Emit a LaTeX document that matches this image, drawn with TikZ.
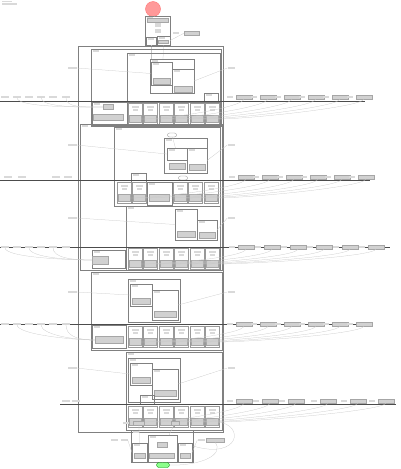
\documentclass[tikz,border=0pt]{standalone}
\usetikzlibrary{positioning}

% plain box, top left corner at (x,y)
\newcommand{\fr}[5]{%
  \node[frame,minimum width=#4pt,minimum height=#5pt] (#1) at (#2,#3) {};
  \node[bar,minimum width=6pt,anchor=north west] (#1-t) at (#2+1.5,#3+1.2) {};}
% one state of a row
\newcommand{\kid}[3]{%
  \node[kidbox] (#1) at (#2,#3) {};
  \node[bar,minimum width=7pt] (#1-t) at (#2+7,#3+4) {};
  \node[bar,minimum width=5pt] (#1-u) at (#2+7,#3+7) {};
  \node[gbox,minimum width=12pt,minimum height=7pt] (#1-g) at (#2+7,#3+16) {};}
\newcommand{\kidrow}[2]{%
  \foreach \i/\x in {1/128,2/143,3/159,4/174,5/190,6/205} {\kid{#1\i}{\x}{#2}}}
% labels right of the chart
\newcommand{\rlabels}[3]{%
  \foreach \i/\x in {#3} {
    \node[bar,minimum width=6pt] (#1x\i) at (\x,#2) {};
    \node[gbox,minimum width=16pt,minimum height=3.5pt] (#1r\i) at (\x+14,#2) {};}}
% labels left of the chart
\newcommand{\llabels}[3]{%
  \foreach \i/\x in {#3} {\node[bar,minimum width=8pt] (#1y\i) at (\x,#2) {};}}

\begin{document}
\begin{tikzpicture}[x=1pt,y=-1pt,
    frame/.style={draw=black!50,line width=0.35pt,inner sep=0pt,outer sep=0pt,anchor=north west},
    kidbox/.style={draw=black!40,fill=white,line width=0.25pt,minimum width=14pt,minimum height=21pt,inner sep=0pt,outer sep=0pt,anchor=north west},
    bar/.style={fill=black!15,inner sep=0pt,minimum height=1.1pt},
    gbox/.style={fill=black!18,draw=black!35,line width=0.2pt,inner sep=0pt},
    conn/.style={draw=black!22,line width=0.25pt},
    lane/.style={draw=black!70,line width=0.45pt}]
  \useasboundingbox (0,0) rectangle (400,469);

  % Titel
  \node[bar,minimum width=10pt,anchor=west] (title1) at (2,1.5) {};
  \node[bar,minimum width=15pt,anchor=west] (title2) at (2,4) {};

  % Start
  \node[circle,fill=red!40,draw=red!55,minimum size=15pt,inner sep=0pt] (start) at (153,9) {};
  \fr{top}{145}{16}{25}{30}
  \node[gbox,minimum width=21pt,minimum height=4pt] (top-h) at (157.5,20) {};
  \foreach \i/\y in {1/24,2/26,3/30,4/32}
    \node[bar,minimum width=6pt] (top-b\i) at (157.5,\y) {};
  \fr{topa}{146}{37}{10}{8}
  \fr{topb}{157}{36}{13}{9}
  \node[gbox,minimum width=10pt,minimum height=3pt] (topb-g) at (163.5,42) {};
  \node[bar,minimum width=6pt] (topn) at (176,33) {};
  \node[gbox,minimum width=15pt,minimum height=3.5pt] (topr) at (192,33) {};
  \draw[conn] (start) -- (top);
  \draw[conn] (topr.west) -- (topb.east);
  \coordinate (aIn1) at (151,60);
  \coordinate (aIn2) at (163,60);
  \draw[conn] (topa.south) -- (aIn1);
  \draw[conn] (topb.south) -- (aIn2);

  % Hauptzustand
  \node[frame,minimum width=145pt,minimum height=386pt] (main) at (78,46) {};

  % Abschnitt A
  \fr{secA}{91}{49}{130}{77}
  \fr{aBox}{127}{53}{93}{49}
  \fr{aNest}{150}{59}{44}{34}
  \fr{aN1}{151}{62}{21}{23}
  \fr{aN2}{172}{69}{22}{24}
  \node[gbox,minimum width=17pt,minimum height=6pt] (aN1-g) at (161.5,81) {};
  \node[gbox,minimum width=18pt,minimum height=6pt] (aN2-g) at (183,89) {};
  \fr{aUp}{204}{93}{14}{9}
  \fr{aLeft}{92}{102}{35}{23}
  \node[gbox,minimum width=10pt,minimum height=5pt] (aLeft-g) at (108,107) {};
  \node[gbox,minimum width=30pt,minimum height=6pt] (aLeft-h) at (108,117) {};
  \fr{aRow}{128}{102}{92}{23}
  \kidrow{a}{103}
  \coordinate (aW) at (0,101);
  \coordinate (aE) at (365,101);
  \draw[lane] (aW) -- (aE);
  \llabels{a}{97}{1/5,2/17,3/29,4/41,5/53,6/66}
  \rlabels{a}{97}{1/230,2/254,3/278,4/302,5/326,6/350}
  \foreach \i in {1,...,6}
    \draw[conn] (ar\i.south) .. controls +(0,8) and +(30,0) .. (a\i-g.east);
  \foreach \i in {2,4,6}
    \draw[conn] (ay\i.south) .. controls +(0,10) and +(-20,0) .. (aLeft-g.west);
  \node[bar,minimum width=9pt] (aSideL) at (72,68) {};
  \node[bar,minimum width=7pt] (aSideR) at (231,68) {};
  \draw[conn] (aSideL.east) -- (aN1.west);
  \draw[conn] (aSideR.west) -- (aN2.east);

  % Abschnitt B
  \fr{secB}{80}{124}{142}{146}
  \fr{bBox}{114}{127}{106}{79}
  \fr{bNest}{164}{138}{43}{35}
  \node[draw=black!45,line width=0.3pt,rounded corners=2pt,minimum width=9pt,minimum height=4pt,inner sep=0pt] (bCloud) at (172,135) {};
  \fr{bN1}{167}{148}{20}{12}
  \fr{bN2}{187}{148}{20}{25}
  \node[gbox,minimum width=16pt,minimum height=6pt] (bN1-g) at (177,166) {};
  \node[gbox,minimum width=16pt,minimum height=6pt] (bN2-g) at (197,167) {};
  \draw[conn] (bCloud) -- (bN1);
  \fr{bUp}{131}{173}{15}{9}
  \foreach \i/\x in {1/117,2/132,4/173,5/188,6/204} {\kid{b\i}{\x}{182}}
  \fr{b3}{147}{182}{25}{23}
  \node[gbox,minimum width=20pt,minimum height=7pt] (b3-g) at (159.5,198) {};
  \node[draw=black!45,line width=0.3pt,rounded corners=2pt,minimum width=9pt,minimum height=4pt,inner sep=0pt] (bCloud2) at (183,178) {};
  \coordinate (bW) at (0,180);
  \coordinate (bE) at (370,180);
  \draw[lane] (bW) -- (bE);
  \llabels{b}{177}{1/8,2/22,3/56,4/68}
  \rlabels{b}{177}{1/232,2/256,3/280,4/304,5/328,6/352}
  \foreach \i in {1,2,4,5,6}
    \draw[conn] (br\i.south) .. controls +(0,8) and +(30,0) .. (b\i-g.east);
  \draw[conn] (br3.south) .. controls +(0,8) and +(30,0) .. (b3-g.east);
  \fr{bLow}{126}{206}{94}{64}
  \fr{bLN1}{175}{209}{22}{31}
  \fr{bLN2}{197}{220}{20}{20}
  \node[gbox,minimum width=18pt,minimum height=6pt] (bLN1-g) at (186,234) {};
  \node[gbox,minimum width=16pt,minimum height=6pt] (bLN2-g) at (207,235) {};
  \fr{bLeft}{92}{250}{33}{18}
  \node[gbox,minimum width=16pt,minimum height=8pt] (bLeft-g) at (100,260) {};
  \kidrow{c}{248}
  \coordinate (cW) at (0,247);
  \coordinate (cE) at (390,247);
  \draw[lane] (cW) -- (cE);
  \llabels{c}{247}{1/5,2/17,3/29,4/41,5/53,6/66}
  \rlabels{c}{247}{1/232,2/258,3/284,4/310,5/336,6/362}
  \foreach \i in {1,...,6}
    \draw[conn] (cr\i.south) .. controls +(0,8) and +(30,0) .. (c\i-g.east);
  \foreach \i in {1,3,5}
    \draw[conn] (cy\i.south) .. controls +(0,10) and +(-20,0) .. (bLeft-g.west);
  \node[bar,minimum width=9pt] (bSideL) at (72,145) {};
  \node[bar,minimum width=7pt] (bSideR) at (231,145) {};
  \node[bar,minimum width=9pt] (cSideL) at (72,218) {};
  \node[bar,minimum width=7pt] (cSideR) at (231,218) {};
  \draw[conn] (bSideL.east) -- (bN1.west);
  \draw[conn] (bSideR.west) -- (bN2.east);
  \draw[conn] (cSideL.east) -- (bLN1.west);
  \draw[conn] (cSideR.west) -- (bLN2.east);

  % Abschnitt C
  \fr{secC}{91}{272}{131}{78}
  \fr{dNest}{128}{279}{52}{43}
  \fr{dN1}{130}{284}{22}{22}
  \fr{dN2}{152}{290}{26}{30}
  \node[gbox,minimum width=18pt,minimum height=6pt] (dN1-g) at (141,301) {};
  \node[gbox,minimum width=22pt,minimum height=6pt] (dN2-g) at (165,314) {};
  \fr{dLeft}{92}{325}{34}{23}
  \node[gbox,minimum width=28pt,minimum height=7pt] (dLeft-g) at (109,340) {};
  \kidrow{d}{326}
  \coordinate (dW) at (0,324);
  \coordinate (dE) at (372,324);
  \draw[lane] (dW) -- (dE);
  \llabels{d}{324}{1/5,2/17,3/29,4/41,5/53,6/66}
  \rlabels{d}{324}{1/230,2/254,3/278,4/302,5/326,6/350}
  \foreach \i in {1,...,6}
    \draw[conn] (dr\i.south) .. controls +(0,8) and +(30,0) .. (d\i-g.east);
  \foreach \i in {2,4,6}
    \draw[conn] (dy\i.south) .. controls +(0,10) and +(-20,0) .. (dLeft-g.west);
  \node[bar,minimum width=9pt] (dSideL) at (72,292) {};
  \node[bar,minimum width=7pt] (dSideR) at (231,292) {};
  \draw[conn] (dSideL.east) -- (dN1.west);
  \draw[conn] (dSideR.west) -- (dN2.east);

  % Abschnitt D
  \fr{secD}{126}{352}{96}{78}
  \fr{eNest}{128}{358}{52}{44}
  \fr{eN1}{130}{363}{22}{22}
  \fr{eN2}{152}{369}{26}{30}
  \node[gbox,minimum width=18pt,minimum height=6pt] (eN1-g) at (141,380) {};
  \node[gbox,minimum width=22pt,minimum height=6pt] (eN2-g) at (165,393) {};
  \fr{eUp}{140}{395}{14}{9}
  \kidrow{e}{406}
  \coordinate (eW) at (60,404);
  \coordinate (eE) at (396,404);
  \draw[lane] (eW) -- (eE);
  \llabels{e}{401}{1/66,2/76}
  \rlabels{e}{401}{1/230,2/256,3/282,4/314,5/344,6/372}
  \foreach \i in {1,...,6}
    \draw[conn] (er\i.south) .. controls +(0,8) and +(30,0) .. (e\i-g.east);
  \node[bar,minimum width=9pt] (eSideL) at (72,368) {};
  \node[bar,minimum width=7pt] (eSideR) at (231,368) {};
  \draw[conn] (eSideL.east) -- (eN1.west);
  \draw[conn] (eSideR.west) -- (eN2.east);

  % Ende
  \node[bar,minimum width=6pt] (fx1) at (126,423) {};
  \node[gbox,minimum width=11pt,minimum height=3.5pt] (fg1) at (139,423) {};
  \node[gbox,minimum width=8pt,minimum height=3.5pt] (fg2) at (175,423) {};
  \fr{fin}{131}{430}{62}{32}
  \fr{finL}{132}{443}{15}{19}
  \fr{finM}{148}{435}{29}{27}
  \fr{finR}{178}{443}{14}{19}
  \node[gbox,minimum width=11pt,minimum height=5pt] (finL-g) at (139.5,456) {};
  \node[gbox,minimum width=10pt,minimum height=5pt] (finM-g) at (162,445) {};
  \node[gbox,minimum width=25pt,minimum height=5pt] (finM-h) at (162,456) {};
  \node[gbox,minimum width=10pt,minimum height=5pt] (finR-g) at (185,456) {};
  \node[bar,minimum width=7pt] (fl1) at (114,440) {};
  \node[bar,minimum width=7pt] (fl2) at (124,440) {};
  \node[bar,minimum width=7pt] (fr1) at (201,440) {};
  \node[gbox,minimum width=18pt,minimum height=4pt] (fr2) at (215,440) {};
  \node[fill=green!45,draw=green!55!black,line width=0.3pt,rounded corners=2.5pt,minimum width=13pt,minimum height=5pt,inner sep=0pt] (stop) at (163,465) {};
  \draw[conn] (fg1) -- (finL);
  \draw[conn] (fg2) -- (finM);
  \draw[conn] (fl2.east) -- (finL.west);
  \draw[conn] (fr1.west) -- (finR.east);
  \draw[conn] (finM.south) -- (stop);
  \draw[conn] (e6-g.east) .. controls (245,425) and (240,460) .. (fin.east);
  \draw[conn] (fr2.south) .. controls (225,455) and (200,466) .. (stop.east);
\end{tikzpicture}
\end{document}
